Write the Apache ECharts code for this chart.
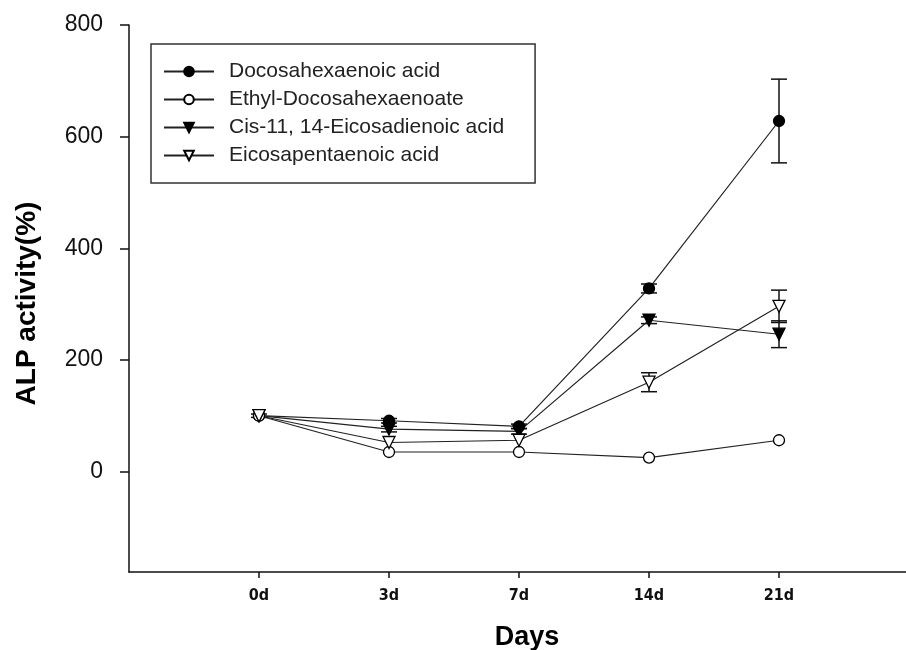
<!DOCTYPE html>
<html><head><meta charset="utf-8">
<script src="https://cdn.jsdelivr.net/npm/echarts@6/dist/echarts.min.js"></script>
<style>html,body{margin:0;padding:0;background:#fff}#c{width:906px;height:650px}</style>
</head><body><div id="c"></div>
<script>
const days = ['0d', '3d', '7d', '14d', '21d'];
const yTicks = [0, 200, 400, 600, 800];
const dha = [100, 91, 81, 328, 628];
const dhaErr = [3, 4, 4, 8, 75];
const ethyl = [100, 35, 35, 25, 56];
const ethylErr = [0, 0, 0, 0, 0];
const cis = [100, 76, 72, 271, 246];
const cisErr = [0, 5, 5, 6, 24];
const epa = [100, 52, 56, 160, 296];
const epaErr = [0, 0, 0, 17, 29];
const names = ['Docosahexaenoic acid', 'Ethyl-Docosahexaenoate', 'Cis-11, 14-Eicosadienoic acid', 'Eicosapentaenoic acid'];

function pts(arr) { return arr.map((v, i) => [i + 1, v]); }
function errs(arr, e) { return arr.map((v, i) => [i + 1, v - e[i], v + e[i]]).filter((d, i) => e[i] > 0); }

function errSeries(arr, e) {
  return {
    type: 'custom', silent: true, z: 1,
    data: errs(arr, e),
    renderItem: function (params, api) {
      const x = api.value(0);
      const lo = api.coord([x, api.value(1)]);
      const hi = api.coord([x, api.value(2)]);
      const w = 8;
      const st = { stroke: '#111', lineWidth: 1.5 };
      return { type: 'group', children: [
        { type: 'line', shape: { x1: lo[0], y1: lo[1], x2: hi[0], y2: hi[1] }, style: st },
        { type: 'line', shape: { x1: lo[0] - w, y1: lo[1], x2: lo[0] + w, y2: lo[1] }, style: st },
        { type: 'line', shape: { x1: hi[0] - w, y1: hi[1], x2: hi[0] + w, y2: hi[1] }, style: st }
      ]};
    }
  };
}

function lineSeries(name, arr, symbol, filled, rot) {
  return {
    name: name, type: 'line', data: pts(arr), z: 3,
    symbol: symbol, symbolSize: symbol === 'circle' ? 11 : 12, symbolRotate: rot,
    showAllSymbol: true,
    lineStyle: { color: '#222', width: 1.2 },
    itemStyle: { color: filled ? '#000' : '#fff', borderColor: '#000', borderWidth: 1.3 },
    emphasis: { disabled: true }
  };
}

const chart = echarts.init(document.getElementById('c'));
chart.setOption({
  animation: false,
  backgroundColor: '#fff',
  grid: { left: 129, top: 25, width: 780, height: 547, outerBoundsMode: 'none', containLabel: false },
  legend: {
    left: 151, top: 44, orient: 'vertical',
    data: names,
    itemWidth: 50, itemHeight: 12, itemGap: 7,
    padding: [17, 31, 17, 12],
    borderColor: '#333', borderWidth: 1.5,
    textStyle: { fontFamily: 'Liberation Sans, Arial', fontSize: 21, lineHeight: 21, color: '#222', padding: [0, 0, 0, 10] }
  },
  xAxis: {
    type: 'value', min: 0, max: 6,
    name: 'Days', nameLocation: 'middle', nameGap: 52,
    nameTextStyle: { fontFamily: 'Liberation Sans, Arial', fontWeight: 'bold', fontSize: 27, color: '#000', padding: [0, 0, 0, 16] },
    axisLine: { onZero: false, lineStyle: { color: '#111', width: 1.5 } },
    axisTick: { customValues: [1, 2, 3, 4, 5], length: 6, lineStyle: { color: '#111', width: 1.5 } },
    axisLabel: { customValues: [1, 2, 3, 4, 5], formatter: v => days[Math.round(v) - 1] || '', margin: 16,
      fontFamily: 'DejaVu Sans Condensed', fontWeight: 'bold', fontSize: 16, color: '#111' },
    splitLine: { show: false }
  },
  yAxis: {
    type: 'value', min: -180, max: 800,
    name: 'ALP activity(%)', nameLocation: 'middle', nameGap: 88,
    nameTextStyle: { fontFamily: 'Liberation Sans, Arial', fontWeight: 'bold', fontSize: 28, color: '#000', padding: [0, 10, 0, 0] },
    axisLine: { show: true, lineStyle: { color: '#111', width: 1.5 } },
    axisTick: { show: true, customValues: yTicks, length: 9, lineStyle: { color: '#111', width: 1.5 } },
    axisLabel: { customValues: yTicks, margin: 26, fontFamily: 'Liberation Sans, Arial', fontSize: 23, color: '#111' },
    splitLine: { show: false }
  },
  series: [
    errSeries(dha, dhaErr), errSeries(ethyl, ethylErr), errSeries(cis, cisErr), errSeries(epa, epaErr),
    lineSeries(names[0], dha, 'circle', true, 0),
    lineSeries(names[1], ethyl, 'circle', false, 0),
    lineSeries(names[2], cis, 'triangle', true, 180),
    lineSeries(names[3], epa, 'triangle', false, 180)
  ]
});
</script></body></html>
